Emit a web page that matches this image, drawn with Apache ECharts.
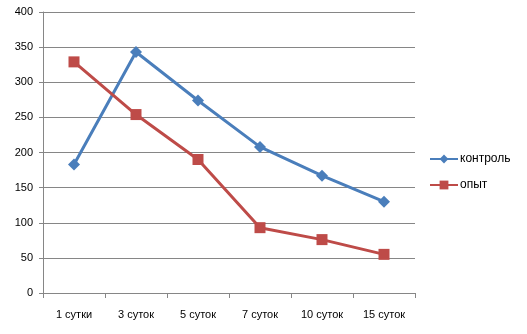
<!DOCTYPE html>
<html><head><meta charset="utf-8">
<script src="https://cdn.jsdelivr.net/npm/echarts@6/dist/echarts.min.js"></script>
<style>html,body{margin:0;padding:0;background:#fff}#c{width:527px;height:334px}</style>
</head><body><div id="c"></div>
<script>
const categories = ['1 сутки', '3 суток', '5 суток', '7 суток', '10 суток', '15 суток'];
const kontrol = [183, 343, 274, 208, 167, 130];
const opyt = [329, 254, 190, 93, 76, 55];
const yTicks = [0, 50, 100, 150, 200, 250, 300, 350, 400];

const chart = echarts.init(document.getElementById('c'), null, {renderer: 'canvas'});
const font = 'Liberation Sans, Arial, sans-serif';
chart.setOption({
  animation: false,
  backgroundColor: '#fff',
  grid: {left: 43, right: 112, top: 12, bottom: 41, containLabel: false},
  legend: {
    orient: 'vertical', left: 424, top: 148, itemWidth: 28, itemHeight: 11, itemGap: 14,
    textStyle: {fontFamily: font, fontSize: 12, color: '#000', padding: [0, 0, 0, -3]},
    data: [{name: 'контроль'}, {name: 'опыт'}]
  },
  xAxis: {
    type: 'category', data: categories, boundaryGap: true,
    axisLine: {lineStyle: {color: '#868686', width: 1}},
    axisTick: {show: true, length: 5, lineStyle: {color: '#868686'}},
    axisLabel: {fontFamily: font, fontSize: 11, color: '#000', margin: 16},
    splitLine: {show: false}
  },
  yAxis: {
    type: 'value', min: yTicks[0], max: yTicks[yTicks.length - 1], interval: 50,
    axisLine: {show: true, lineStyle: {color: '#868686', width: 1}},
    axisTick: {show: true, length: 4, lineStyle: {color: '#868686'}},
    axisLabel: {fontFamily: font, fontSize: 11, color: '#000', margin: 10},
    splitLine: {lineStyle: {color: '#868686', width: 1}}
  },
  series: [
    {name: 'контроль', type: 'line', data: kontrol, symbol: 'diamond', symbolSize: 12,
     lineStyle: {color: '#4a7ebb', width: 3}, itemStyle: {color: '#4a7ebb'}},
    {name: 'опыт', type: 'line', data: opyt, symbol: 'rect', symbolSize: 11,
     lineStyle: {color: '#be4b48', width: 3}, itemStyle: {color: '#be4b48'}}
  ]
});
</script></body></html>
